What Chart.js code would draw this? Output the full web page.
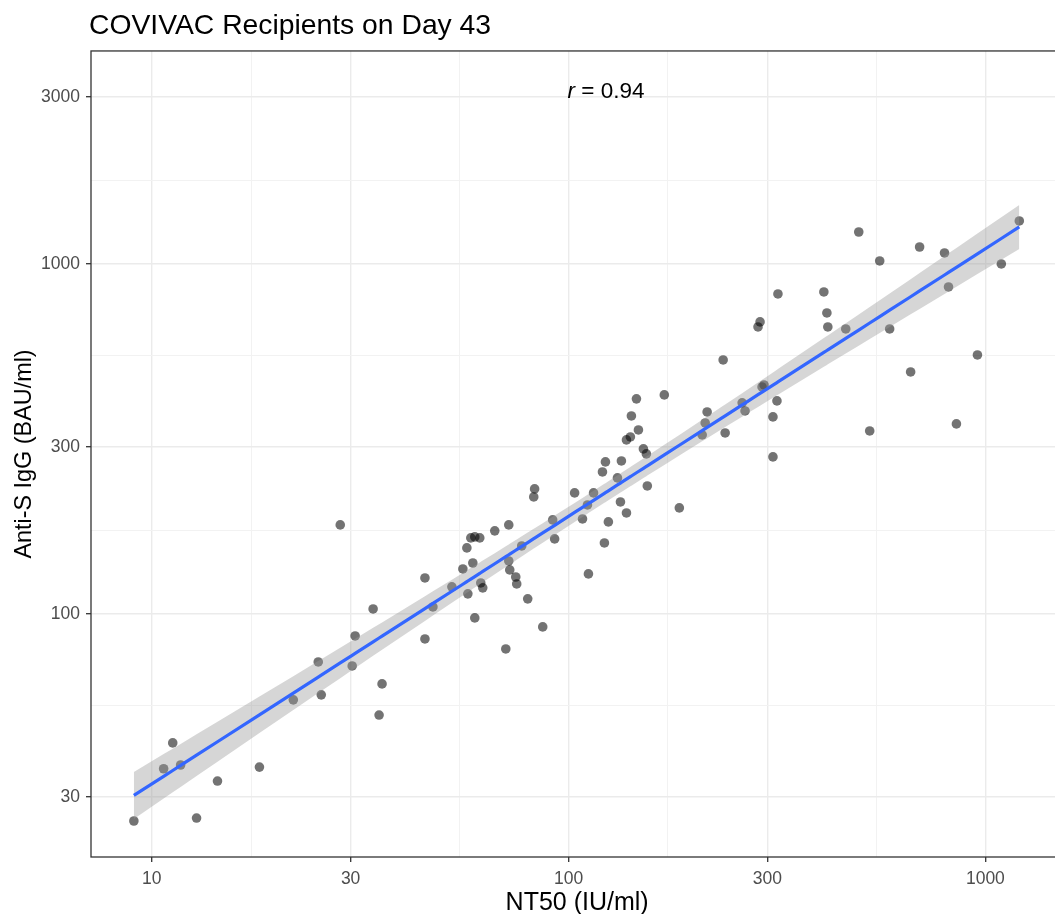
<!DOCTYPE html>
<html><head><meta charset="utf-8">
<script src="https://cdn.jsdelivr.net/npm/chart.js@4.4.1/dist/chart.umd.min.js"></script>
<style>html,body{margin:0;padding:0;overflow:hidden;background:#fff;width:1055px;height:914px}canvas{display:block}</style>
</head><body>
<canvas id="c" width="1068" height="914" style="width:1068px;height:914px"></canvas>
<script>
const titleText = 'COVIVAC Recipients on Day 43';
const xTitle = 'NT50 (IU/ml)';
const yTitle = 'Anti-S IgG (BAU/ml)';
const xTicks = [10, 30, 100, 300, 1000];
const yTicks = [30, 100, 300, 1000, 3000];
const corrLabel = ' = 0.94';

const nt50 = [9.06, 10.68, 11.23, 11.73, 12.81, 14.38, 18.13, 21.86, 25.09, 25.51,
  30.26, 30.76, 33.97, 35.69, 35.11, 45.23, 47.27, 28.33, 45.23, 52.49,
  57.33, 55.77, 58.93, 57.02, 58.28, 59.57, 61.23, 66.52, 71.87, 61.57,
  62.25, 59.57, 70.7, 71.87, 72.26, 74.7, 75.1, 77.2, 79.8, 86.7,
  82.9, 82.5, 91.6, 92.6, 103.4, 114.8, 111.0, 108.0, 121.9, 111.6,
  124.6, 133.2, 137.7, 145.5, 169.7, 141.5, 147.1, 140.7, 137.7, 151.2,
  153.7, 122.6, 133.9, 120.6, 131.0, 154.5, 184.4, 234.9, 215.0, 212.7,
  209.2, 237.5, 260.9, 265.1, 294.4, 291.2, 316.2, 309.3, 309.3, 288.0,
  284.8, 317.9, 409.7, 416.6, 418.8, 462.4, 496.8, 557.8, 589.3, 527.8,
  661.7, 695.3, 797.9, 815.7, 957.0, 852.1, 1092, 1206];

const igg = [25.6, 36.1, 42.8, 37.0, 26.1, 33.3, 36.5, 56.8, 72.9, 58.7,
  71.0, 86.5, 103.3, 63.1, 51.4, 84.8, 104.7, 179.6, 126.7, 119.5,
  114.1, 134.4, 139.8, 154.4, 164.9, 166.0, 164.9, 172.7, 179.6, 122.6,
  118.7, 97.4, 79.4, 141.7, 133.6, 127.5, 121.8, 156.4, 110.4, 91.8,
  227.6, 215.9, 185.6, 163.8, 221.7, 221.7, 204.8, 186.8, 159.5, 130.1,
  183.2, 208.9, 194.3, 411.6, 422.5, 367.9, 335.5, 320.4, 314.2, 296.1,
  286.6, 271.9, 273.6, 254.5, 244.7, 232.1, 200.9, 531.8, 377.7, 351.3,
  324.7, 328.9, 400.9, 380.2, 451.1, 445.2, 406.1, 365.5, 281.0, 683.0,
  660.7, 821.0, 831.8, 724.4, 660.7, 652.1, 1234, 1020, 652.1, 333.3,
  491.4, 1118, 1075, 859.5, 549.5, 349.1, 1000, 1327];

const FONT = '"Liberation Sans", Arial, Helvetica, sans-serif';

// linear fit in log10-log10 space with 95% confidence band (geom_smooth, method = lm)
const LX = nt50.map(Math.log10), LY = igg.map(Math.log10);
const n = LX.length;
const mx = LX.reduce((s, v) => s + v, 0) / n;
const my = LY.reduce((s, v) => s + v, 0) / n;
let sxx = 0, sxy = 0;
for (let i = 0; i < n; i++) { sxx += (LX[i] - mx) ** 2; sxy += (LX[i] - mx) * (LY[i] - my); }
const slope = sxy / sxx, icpt = my - slope * mx;
let sse = 0;
for (let i = 0; i < n; i++) { const r = LY[i] - (icpt + slope * LX[i]); sse += r * r; }
const sRes = Math.sqrt(sse / (n - 2));
const tq = 1.985;
const xsSorted = [...new Set(nt50)].sort((p, q) => p - q);
const fitPts = [], upPts = [], loPts = [];
xsSorted.forEach(x => {
  const l = Math.log10(x);
  const f = icpt + slope * l;
  const se = sRes * Math.sqrt(1 / n + (l - mx) ** 2 / sxx);
  fitPts.push({x, y: 10 ** f});
  upPts.push({x, y: 10 ** (f + tq * se)});
  loPts.push({x, y: 10 ** (f - tq * se)});
});

function withMinor(major) {
  const out = [];
  major.forEach((v, i) => { out.push(v); if (i < major.length - 1) out.push(Math.sqrt(v * major[i + 1])); });
  return out;
}
const xAll = withMinor(xTicks), yAll = withMinor(yTicks);
const isMaj = (list, v) => v != null && list.some(t => Math.abs(t - v) < 1e-9 * t);

function axisCfg(majors, all, min, max) {
  return {
    type: 'logarithmic', min, max,
    afterBuildTicks: s => { s.ticks = all.map(v => ({value: v})); },
    ticks: {
      autoSkip: false, maxRotation: 0, minRotation: 0,
      color: '#4D4D4D', font: {family: FONT, size: 17.5},
      callback: v => isMaj(majors, v) ? String(v) : ''
    },
    grid: {
      color: c => isMaj(majors, c.tick && c.tick.value) ? '#EBEBEB' : '#F2F2F2',
      lineWidth: c => isMaj(majors, c.tick && c.tick.value) ? 1.4 : 1,
      tickColor: c => isMaj(majors, c.tick && c.tick.value) ? '#333333' : 'rgba(0,0,0,0)',
      tickLength: 5, tickWidth: 1.3, drawTicks: true
    },
    border: {display: false}
  };
}

const xScale = axisCfg(xTicks, xAll, 7.15, 1537);
xScale.ticks.padding = 7;
xScale.title = {display: true, text: xTitle, color: '#000', font: {family: FONT, size: 25, lineHeight: 0.9}, padding: {top: 0, bottom: 0}};
xScale.afterFit = s => { s.height = 57; };

const yScale = axisCfg(yTicks, yAll, 20.2, 4061);
yScale.ticks.padding = 6;
yScale.title = {display: true, text: yTitle, color: '#000', font: {family: FONT, size: 23.4, lineHeight: 1}, padding: {top: 13, bottom: 0}};
yScale.afterFit = s => { s.width = 91; };

const panelPlugin = {
  id: 'panel',
  afterLayout(chart) {
    if (chart.titleBlock) chart.titleBlock.left = chart.chartArea.left - 2;
  },
  afterDraw(chart) {
    const {ctx, chartArea: a, scales} = chart;
    ctx.save();
    ctx.strokeStyle = '#333333';
    ctx.lineWidth = 1.3;
    ctx.strokeRect(a.left, a.top, a.right - a.left, a.bottom - a.top);
    // correlation annotation anchored at (100, 3000)
    const x0 = scales.x.getPixelForValue(100) - 1;
    const y0 = scales.y.getPixelForValue(3000) + 1;
    ctx.fillStyle = '#000';
    ctx.textBaseline = 'alphabetic';
    ctx.textAlign = 'left';
    ctx.font = 'italic 22.5px ' + FONT;
    ctx.fillText('r', x0, y0);
    const w = ctx.measureText('r').width;
    ctx.font = '22.5px ' + FONT;
    ctx.fillText(corrLabel, x0 + w, y0);
    ctx.restore();
  }
};

new Chart(document.getElementById('c'), {
  type: 'scatter',
  data: {
    datasets: [
      {type: 'line', label: 'fit', data: fitPts, borderColor: '#3366FF', borderWidth: 3.2, pointRadius: 0, fill: false, tension: 0, order: 1},
      {type: 'line', label: 'upper', data: upPts, borderColor: 'rgba(0,0,0,0)', borderWidth: 0.01, pointRadius: 0, fill: '+1', backgroundColor: 'rgba(153,153,153,0.4)', tension: 0, order: 2},
      {type: 'line', label: 'lower', data: loPts, borderColor: 'rgba(0,0,0,0)', borderWidth: 0.01, pointRadius: 0, fill: false, tension: 0, order: 2},
      {type: 'scatter', label: 'points', data: nt50.map((x, i) => ({x, y: igg[i]})), backgroundColor: 'rgba(0,0,0,0.55)', borderWidth: 0, pointRadius: 4.8, order: 3}
    ]
  },
  options: {
    responsive: false, animation: false, devicePixelRatio: 1,
    layout: {padding: {left: 0, right: 2, top: 0, bottom: 0}},
    plugins: {
      legend: {display: false}, tooltip: {enabled: false},
      title: {display: true, text: titleText, align: 'start', color: '#000',
        font: {family: FONT, size: 28.3, weight: 'normal', lineHeight: 1.2}, padding: {top: 9, bottom: 8.0}}
    },
    scales: {x: xScale, y: yScale}
  },
  plugins: [panelPlugin]
});
</script>
</body></html>
